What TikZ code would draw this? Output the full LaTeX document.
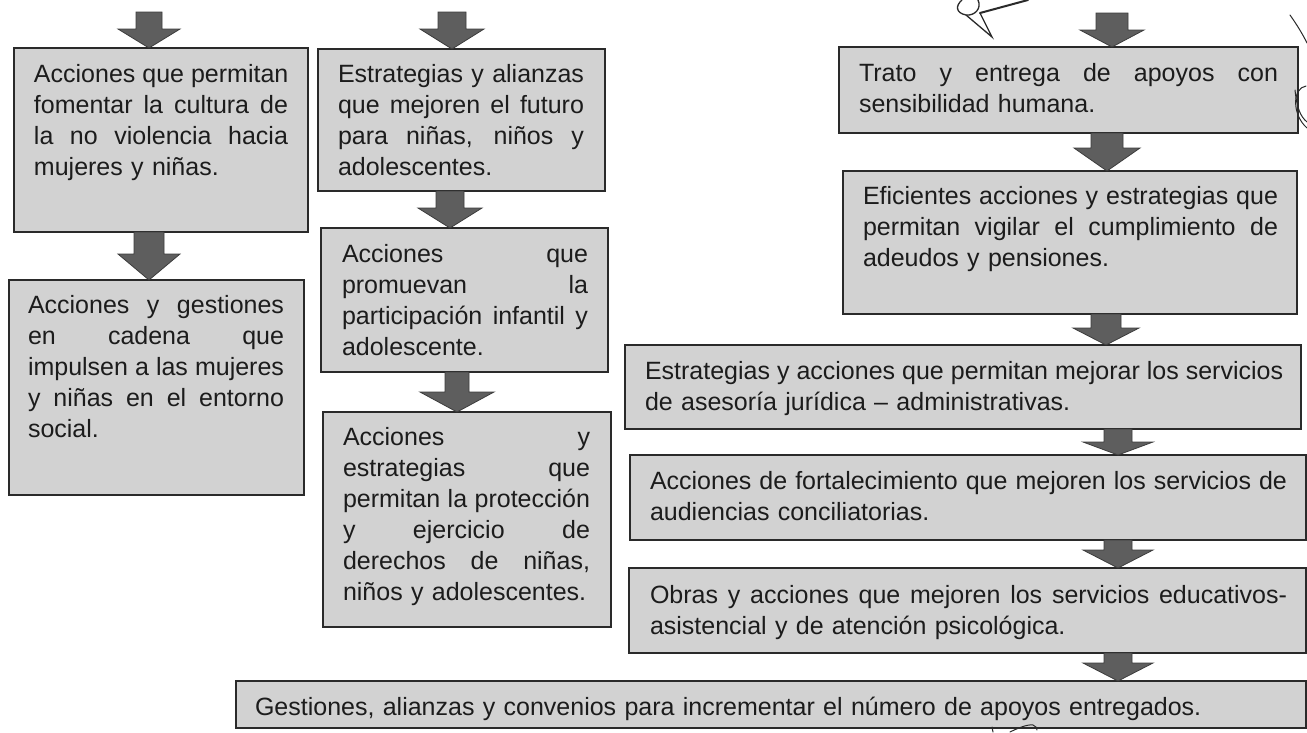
\documentclass[tikz,border=0pt]{standalone}
\usepackage{fontspec}
\setmainfont{Liberation Sans}
\usetikzlibrary{calc}
\definecolor{boxfill}{HTML}{D2D2D2}
\definecolor{boxline}{HTML}{2A2A2A}
\definecolor{arrfill}{HTML}{5E5E5E}
\definecolor{arrline}{HTML}{3C3C3C}
\definecolor{txtcol}{HTML}{1C1C1C}
\definecolor{inkcol}{HTML}{2A2A2A}
\newcommand{\jl}[1]{\leavevmode\hbox to\hsize{\spaceskip=0.28em plus 10em\relax #1}}
\begin{document}
\begin{tikzpicture}[x=1pt,y=-1pt,
  boxnode/.style={draw=boxline, fill=boxfill, line width=1.3pt, anchor=north west,
    inner sep=0pt, outer sep=0pt},
  txtnode/.style={anchor=north west, inner sep=0pt, outer sep=0pt, align=left,
    text=txtcol, font=\fontsize{25}{31}\selectfont},
  barrow/.style args={#1/#2/#3}{draw=arrline, fill=arrfill, line width=0.8pt, line join=miter,
    to path={let \p1=(\tikztostart), \p2=(\tikztotarget) in
      (\x1-#1pt,\y1) -- (\x1+#1pt,\y1) -- (\x1+#1pt,\y2+#3pt) -- (\x1+#2pt,\y2+#3pt)
      -- (\x1,\y2) -- (\x1-#2pt,\y2+#3pt) -- (\x1-#1pt,\y2+#3pt) -- cycle}},
  ink/.style={draw=inkcol, line width=1.3pt, line cap=round}
]
\useasboundingbox (0,0) rectangle (1307,732);
\fill[white] (0,0) rectangle (1307,732);

% ---- boxes ----
\node[boxnode, minimum width=294pt, minimum height=184pt] (L1) at (14,48) {};
\node[boxnode, minimum width=295pt, minimum height=215pt] (L2) at (9,280) {};
\node[boxnode, minimum width=287pt, minimum height=142pt] (M1) at (318,49) {};
\node[boxnode, minimum width=287pt, minimum height=144pt] (M2) at (321,228) {};
\node[boxnode, minimum width=288pt, minimum height=215pt] (M3) at (323,412) {};
\node[boxnode, minimum width=459pt, minimum height=86pt] (R1) at (839,47) {};
\node[boxnode, minimum width=454pt, minimum height=143pt] (R2) at (843,171) {};
\node[boxnode, minimum width=676pt, minimum height=84pt] (R3) at (625,345) {};
\node[boxnode, minimum width=676pt, minimum height=85pt] (R4) at (630,455) {};
\node[boxnode, minimum width=677pt, minimum height=85pt] (R5) at (629,568) {};
\node[boxnode, minimum width=1070pt, minimum height=47pt] (R6) at (236,681) {};

% ---- texts ----
\node[txtnode, text width=254pt] (L1t) at ([xshift=20pt,yshift=-13pt]L1.north west)
  {\strut\jl{Acciones que permitan}\\\jl{fomentar la cultura de}\\\jl{la no violencia hacia}\\mujeres y niñas.};
\node[txtnode, text width=256pt] (L2t) at ([xshift=19pt,yshift=-12pt]L2.north west)
  {\strut\jl{Acciones y gestiones}\\\jl{en cadena que}\\\jl{impulsen a las mujeres}\\\jl{y niñas en el entorno}\\social.};
\node[txtnode, text width=246pt] (M1t) at ([xshift=20pt,yshift=-12pt]M1.north west)
  {\strut\jl{Estrategias y alianzas}\\\jl{que mejoren el futuro}\\\jl{para niñas, niños y}\\adolescentes.};
\node[txtnode, text width=246pt] (M2t) at ([xshift=21pt,yshift=-13pt]M2.north west)
  {\strut\jl{Acciones que}\\\jl{promuevan la}\\\jl{participación infantil y}\\adolescente.};
\node[txtnode, text width=247pt] (M3t) at ([xshift=20pt,yshift=-12pt]M3.north west)
  {\strut\jl{Acciones y}\\\jl{estrategias que}\\\jl{permitan la protección}\\\jl{y ejercicio de}\\\jl{derechos de niñas,}\\niños y adolescentes.};
\node[txtnode, text width=419pt] (R1t) at ([xshift=20pt,yshift=-13pt]R1.north west)
  {\strut\jl{Trato y entrega de apoyos con}\\sensibilidad humana.};
\node[txtnode, text width=415pt] (R2t) at ([xshift=20pt,yshift=-12pt]R2.north west)
  {\strut\jl{Eficientes acciones y estrategias que}\\\jl{permitan vigilar el cumplimiento de}\\adeudos y pensiones.};
\node[txtnode, text width=637pt] (R3t) at ([xshift=20pt,yshift=-13pt]R3.north west)
  {\strut\jl{Estrategias y acciones que permitan mejorar los servicios}\\de asesoría jurídica – administrativas.};
\node[txtnode, text width=637pt] (R4t) at ([xshift=20pt,yshift=-13pt]R4.north west)
  {\strut\jl{Acciones de fortalecimiento que mejoren los servicios de}\\audiencias conciliatorias.};
\node[txtnode, text width=637pt] (R5t) at ([xshift=21pt,yshift=-14pt]R5.north west)
  {\strut\jl{Obras y acciones que mejoren los servicios educativos-}\\asistencial y de atención psicológica.};
\node[txtnode, text width=1030pt] (R6t) at ([xshift=19pt,yshift=-13pt]R6.north west)
  {\strut Gestiones, alianzas y convenios para incrementar el número de apoyos entregados.};

% ---- arrow columns / free ends ----
\coordinate (tL) at (149,12);
\coordinate (tM) at (452,12);
\coordinate (xM1) at (450,0);
\coordinate (xM2) at (457,0);
\coordinate (tR) at (1112,13);
\coordinate (xR1) at (1107,0);
\coordinate (xR2) at (1106,0);
\coordinate (xR3) at (1118,0);

% ---- block arrows ----
\draw[barrow=13/31/19] (tL) to (tL |- L1.north);
\draw[barrow=15/31/26] (tL |- L1.south) to (tL |- L2.north);
\draw[barrow=14/32/20] (tM) to (tM |- M1.north);
\draw[barrow=14/32/20] (xM1 |- M1.south) to (xM1 |- M2.north);
\draw[barrow=12/37/20] (xM2 |- M2.south) to (xM2 |- M3.north);
\draw[barrow=16/32/17] (tR) to (tR |- R1.north);
\draw[barrow=16/33/23] (xR1 |- R1.south) to (xR1 |- R2.north);
\draw[barrow=15/33/17] (xR2 |- R2.south) to (xR2 |- R3.north);
\draw[barrow=14/35/13] (xR3 |- R3.south) to (xR3 |- R4.north);
\draw[barrow=14/35/18] (xR3 |- R4.south) to (xR3 |- R5.north);
\draw[barrow=14/35/18] (xR3 |- R5.south) to (xR3 |- R6.north);

% ---- handwritten marks ----
\draw[ink] (962,0) .. controls (955,6) and (956,13) .. (966,15)
  .. controls (975,16) and (982,8) .. (978,0);
\draw[ink] (966,15) -- (992,37) -- (980,13);
\draw[ink, line width=2pt] (980,13) -- (1028,0);
\draw[ink, line width=1pt] (1290,15) .. controls (1297,25) and (1302,33) .. (1307,43);
\draw[ink, line width=1pt] (1306,86) .. controls (1292,88) and (1292,115) .. (1307,128);
\draw[ink, line width=1pt] (1295,90) .. controls (1297,108) and (1300,116) .. (1307,122);
\draw[ink, line width=1pt] (992,727) -- (993,732);
\draw[ink, line width=1pt] (1010,732) .. controls (1018,728) and (1028,724) .. (1033,725)
  .. controls (1036,726) and (1037,728) .. (1037,730);
\end{tikzpicture}
\end{document}
